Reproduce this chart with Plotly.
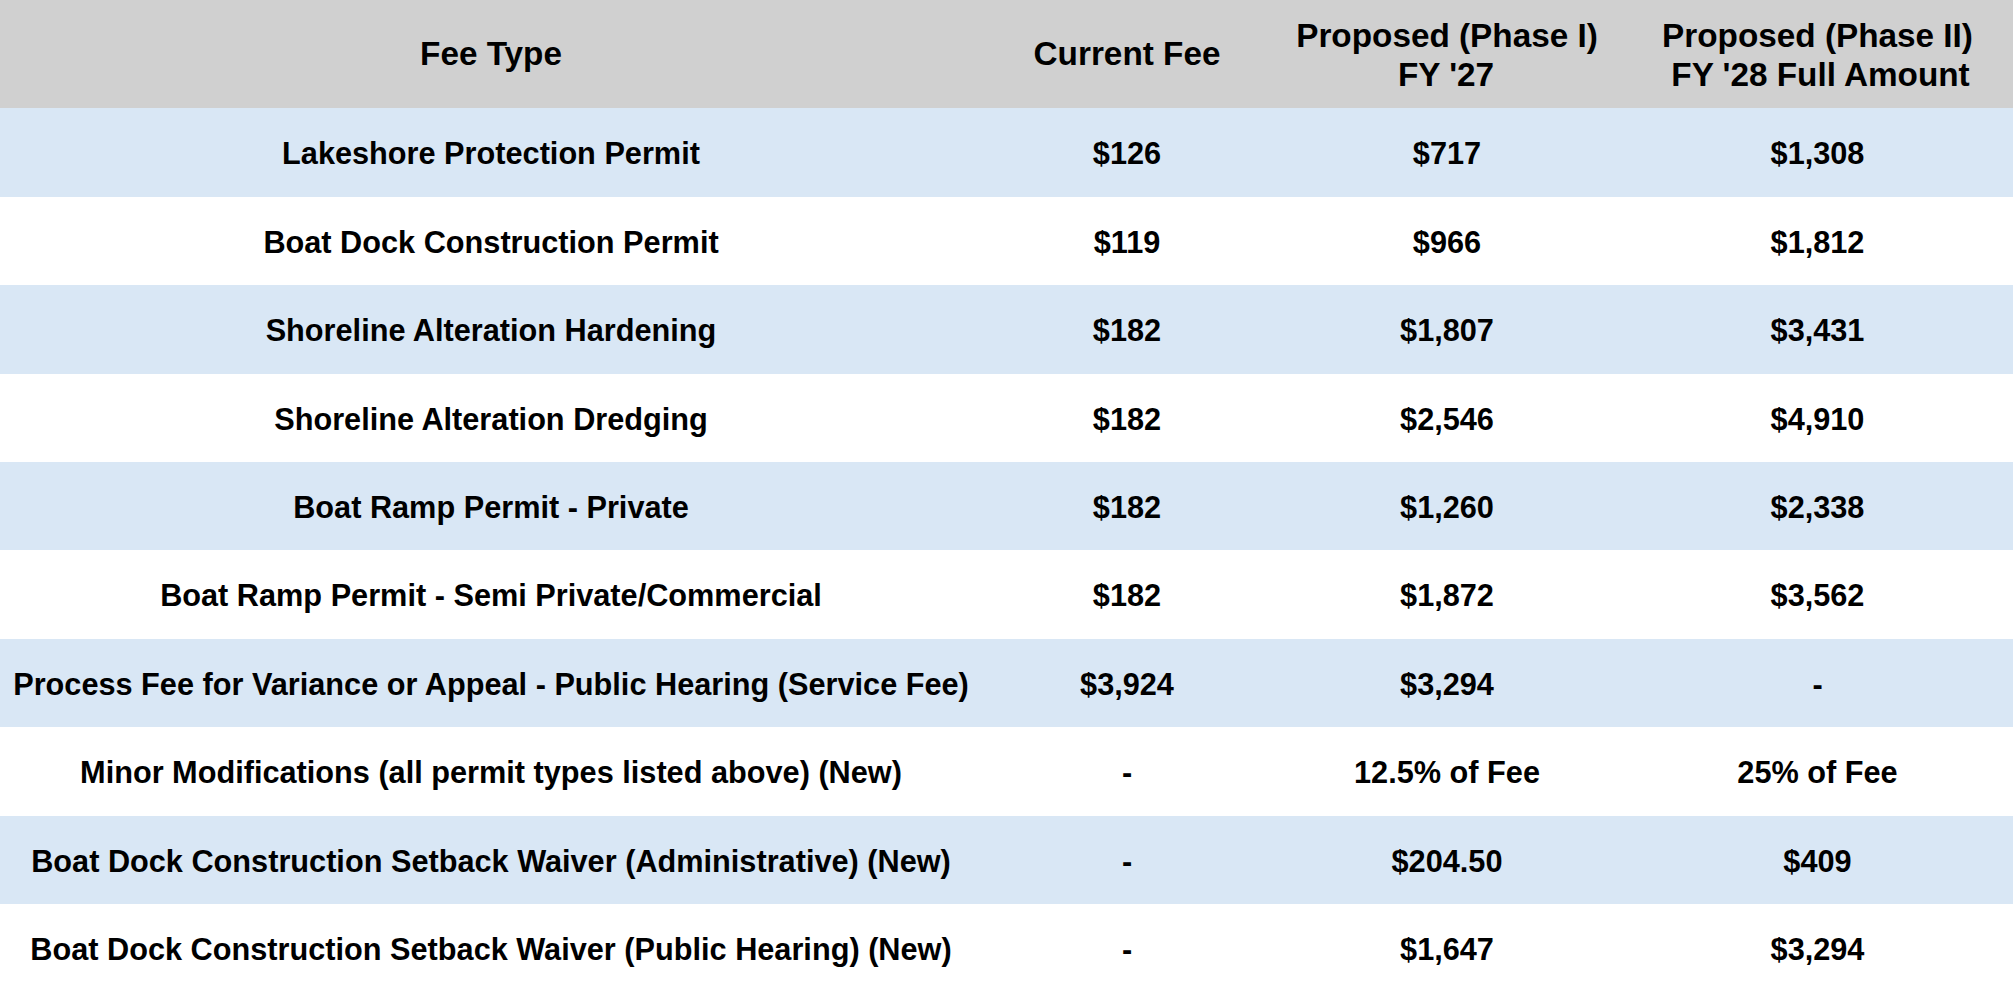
import plotly.graph_objects as go

# table data
fee_types = [
    'Lakeshore Protection Permit',
    'Boat Dock Construction Permit',
    'Shoreline Alteration Hardening',
    'Shoreline Alteration Dredging',
    'Boat Ramp Permit - Private',
    'Boat Ramp Permit - Semi Private/Commercial',
    'Process Fee for Variance or Appeal - Public Hearing (Service Fee)',
    'Minor Modifications (all permit types listed above) (New)',
    'Boat Dock Construction Setback Waiver (Administrative) (New)',
    'Boat Dock Construction Setback Waiver (Public Hearing) (New)',
]
current_fee = ['$126', '$119', '$182', '$182', '$182', '$182', '$3,924', '-', '-', '-']
phase1_fy27 = ['$717', '$966', '$1,807', '$2,546', '$1,260', '$1,872', '$3,294',
               '12.5% of Fee', '$204.50', '$1,647']
phase2_fy28 = ['$1,308', '$1,812', '$3,431', '$4,910', '$2,338', '$3,562', '-',
               '25% of Fee', '$409', '$3,294']
header_lines = [['Fee Type'], ['Current Fee'],
                ['Proposed (Phase I)', "FY '27"],
                ['Proposed (Phase II)', "FY '28 Full Amount"]]
# nbsp padding so the 2nd header line sits centred (plotly left-aligns lines)
header_pad = [[0], [0], [0, 11], [0, 1]]

HEAD_PX = 33.3
BODY_PX = 30.7
NBSP = '\u00a0'


# plotly tables have no vertical align: start each cell with a 1px blank line,
# the gap to the real text is 1.3em of the cell font size
def span(txt, px):
    return '<span style="font-size:%spx">%s</span>' % (px, txt)


SPACER = span(NBSP, 1) + '<br>'


def body_cell(txt):
    return SPACER + span(txt, BODY_PX)


def head_cell(lines, pads):
    return SPACER + '<br>'.join(span(NBSP * p + t, HEAD_PX) for t, p in zip(lines, pads))


headers = [head_cell(l, p) for l, p in zip(header_lines, header_pad)]
columns = [fee_types, current_fee, phase1_fy27, phase2_fy28]
cell_values = [[body_cell(v) for v in col] for col in columns]

# alternating row colours
row_fill = ['#d9e7f5' if i % 2 == 0 else 'white' for i in range(len(fee_types))]

fig = go.Figure(go.Table(
    columnwidth=[982, 290, 350, 391],
    header=dict(values=headers,
                fill_color='#d0d0d0',
                line=dict(width=0, color='#d0d0d0'),
                align='center',
                height=108.3,
                font=dict(family='Liberation Sans, Arial', size=[43.4, 43.4, 29.5, 29.5],
                          color='black', weight='bold')),
    cells=dict(values=cell_values,
               fill_color=[row_fill] * 4,
               line=dict(width=0, color='white'),
               align='center',
               height=88.4,
               font=dict(family='Liberation Sans, Arial', size=36.2, color='black', weight='bold')),
    domain=dict(x=[0, 1], y=[0, 1]),
))

fig.update_layout(width=2013, height=999, margin=dict(l=0, r=0, t=0, b=0),
                  paper_bgcolor='white')
fig.write_html('out.html', config={'displayModeBar': False},
               post_script="document.body.style.margin='0';")
